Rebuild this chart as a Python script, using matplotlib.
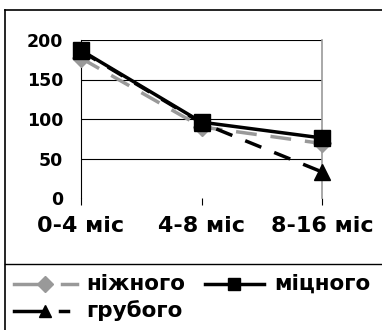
import matplotlib
matplotlib.use("Agg")
import matplotlib.pyplot as plt
from matplotlib.lines import Line2D

categories = ["0-4 міс", "4-8 міс", "8-16 міс"]
nizhnoho = [177, 90, 69]
mitsnoho = [187, 96, 76]
ruboho = [186, 95, 33]
yticks = [0, 50, 100, 150, 200]
series_names = ["ніжного", "міцного", "грубого"]

W, H = 382, 330
fig = plt.figure(figsize=(W / 100, H / 100), dpi=100)
plt.rcParams['font.family'] = ['DejaVu Sans']

# outer frame lines
fig.add_artist(Line2D([5 / W, 1], [1 - 10 / H, 1 - 10 / H], color='black', lw=1.2))
fig.add_artist(Line2D([5 / W, 5 / W], [0, 1 - 10 / H], color='black', lw=1.2))
fig.add_artist(Line2D([5 / W, 1], [1 - 264 / H, 1 - 264 / H], color='black', lw=1.0))

x0, x1 = 81, 322
y0, y1 = 40, 198
ax = fig.add_axes([x0 / W, 1 - y1 / H, (x1 - x0) / W, (y1 - y0) / H])
xs = list(range(len(categories)))
ax.set_xlim(0, 2)
ax.set_ylim(0, 200)
ax.set_yticks(yticks)
ax.set_xticks(xs)
ax.set_xticklabels(categories, fontsize=16, fontweight='bold')
ax.set_yticklabels([str(v) for v in yticks], fontsize=12.5, fontweight='bold')
ax.tick_params(axis='x', length=5, pad=8, color='black')
ax.tick_params(axis='y', length=0, pad=13)
for v in yticks[1:]:
    ax.axhline(v, color='black', lw=0.8, zorder=0)
for s in ['top', 'bottom']:
    ax.spines[s].set_visible(False)
ax.spines['right'].set_color('#999999')
ax.spines['right'].set_linewidth(1.2)
ax.spines['left'].set_color('black')
ax.spines['left'].set_linewidth(0.8)

ax.plot(xs, nizhnoho, color='#999999', lw=2.5, ls=(0, (6, 4)), marker='D', ms=9,
        mfc='#999999', mec='#999999', clip_on=False, zorder=3)
ax.plot(xs, ruboho, color='black', lw=2.5, ls=(0, (5, 4)), marker='^', ms=12,
        mfc='black', mec='black', clip_on=False, zorder=4)
ax.plot(xs, mitsnoho, color='black', lw=2.5, ls='-', marker='s', ms=12,
        mfc='black', mec='black', clip_on=False, zorder=5)

# legend
def handle(xa, xm, xb, y, color, marker, ms, dash_start):
    yy = 1 - y / H
    fig.add_artist(Line2D([xa / W, xm / W], [yy, yy], color=color, lw=2.5))
    fig.add_artist(Line2D([dash_start / W, xb / W], [yy, yy], color=color, lw=2.5))
    fig.add_artist(Line2D([xm / W], [yy], color=color, marker=marker, ms=ms, lw=0))

handle(14, 45, 77, 284, '#999999', 'D', 8, 62)
handle(205, 234, 264, 284, 'black', 's', 8, 234)
handle(14, 45, 68, 311, 'black', '^', 9, 60)
fig.text(86 / W, 1 - 284 / H, series_names[0], fontsize=15.5, fontweight='bold', va='center')
fig.text(274 / W, 1 - 284 / H, series_names[1], fontsize=15.5, fontweight='bold', va='center')
fig.text(86 / W, 1 - 311 / H, series_names[2], fontsize=15.5, fontweight='bold', va='center')

fig.savefig("out.png", dpi=100)
